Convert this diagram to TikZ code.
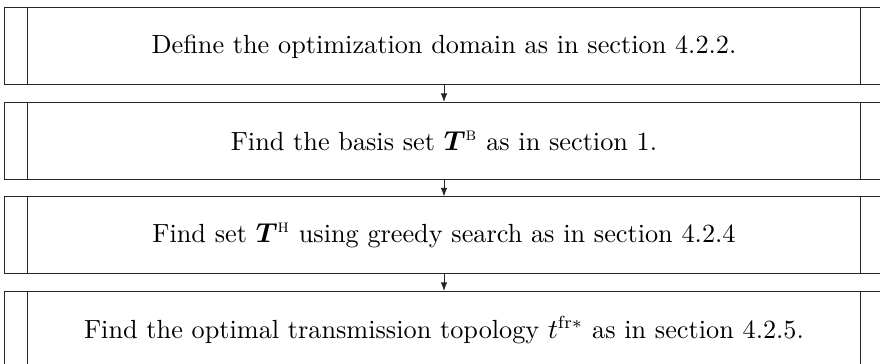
\documentclass[tikz,border=0pt]{standalone}
\usepackage{amsmath,bm}
\usetikzlibrary{calc,arrows.meta}
\begin{document}
\begin{tikzpicture}[x=0.4pt,y=-0.4pt,
  procbox/.style={draw=black!85, line width=0.4pt, minimum width=351.2pt, minimum height=30.8pt, inner sep=0pt, font=\fontsize{10.5}{12.6}\selectfont},
  sidebar/.style={draw=black!85, line width=0.4pt},
  flow/.style={draw=black!85, line width=0.4pt, -{Latex[length=3.4pt,width=2.6pt]}}]
\useasboundingbox (0,0) rectangle (880,364);
\node[procbox] (b1) at (444,46.5) {Define the optimization domain as in section 4.2.2.};
\node[procbox] (b2) at (444,141) {Find the basis set $\bm{T}^{\textsc{b}}$ as in section 1.};
\node[procbox] (b3) at (444,235.5) {Find set $\bm{T}^{\textsc{h}}$ using greedy search as in section 4.2.4};
\node[procbox] (b4) at (444,330) {Find the optimal transmission topology $t^{\mathrm{fr}*}$ as in section 4.2.5.};
\foreach \n in {b1,b2,b3,b4}{
  \draw[sidebar] ($(\n.north west)+(23,0)$) -- ($(\n.south west)+(23,0)$);
  \draw[sidebar] ($(\n.north east)+(-23,0)$) -- ($(\n.south east)+(-23,0)$);
}
\draw[flow] (b1) -- (b2);
\draw[flow] (b2) -- (b3);
\draw[flow] (b3) -- (b4);
\end{tikzpicture}
\end{document}
